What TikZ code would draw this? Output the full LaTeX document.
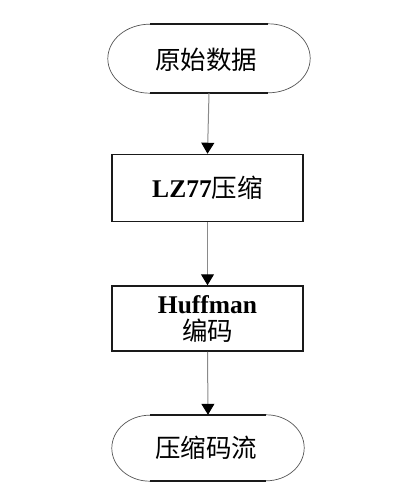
\documentclass[tikz,border=0pt]{standalone}
\usepackage{fontspec}
\setmainfont{Liberation Serif}
\newfontfamily\cjk{Noto Sans CJK SC}
\usetikzlibrary{arrows.meta}
\definecolor{edgedark}{HTML}{1A1A1A}
\definecolor{arcgray}{HTML}{555555}
\definecolor{linkgray}{HTML}{8A8A8A}
\tikzset{
  txt/.style={font=\fontsize{25.5pt}{27pt}\selectfont, text=black, inner sep=0pt, align=center},
  procbox/.style={draw=edgedark, line width=1.5pt, minimum width=191pt, minimum height=67pt, inner sep=0pt},
  termcore/.style={minimum height=69pt, inner sep=0pt},
  termedge/.style={draw=edgedark, line width=1.6pt},
  termarc/.style={draw=arcgray, line width=0.7pt},
  link/.style={draw=linkgray, line width=1pt, -{Triangle[width=13pt,length=11pt,color=black]}}
}
\begin{document}
\begin{tikzpicture}[x=1pt,y=-1pt]
\useasboundingbox (0,0) rectangle (411,492);
% top terminal
\node[termcore, minimum width=118pt] (t1) at (209,58.5) {};
\draw[termedge] (t1.north west) -- (t1.north east);
\draw[termedge] (t1.south west) -- (t1.south east);
\draw[termarc] (t1.north east) arc[start angle=90, end angle=-90, x radius=42pt, y radius=34.5pt];
\draw[termarc] (t1.south west) arc[start angle=270, end angle=90, x radius=42pt, y radius=34.5pt];
\node[txt] (t1txt) at (206,60) {\cjk 原始数据};
% LZ77 box
\node[procbox, txt] (p1) at (207.5,188) {\textbf{LZ77}{\cjk 压缩}};
% Huffman box
\node[procbox, minimum height=65pt] (p2) at (207.5,318.5) {};
\node[txt] (p2txt) at (207.5,318.5) {\textbf{Huffman}\\{\cjk 编码}};
% bottom terminal
\node[termcore, minimum width=116pt, minimum height=66pt] (t2) at (208,448) {};
\draw[termedge] (t2.north west) -- (t2.north east);
\draw[termedge] (t2.south west) -- (t2.south east);
\draw[termarc] (t2.north east) arc[start angle=90, end angle=-90, x radius=38pt, y radius=33pt];
\draw[termarc] (t2.south west) arc[start angle=270, end angle=90, x radius=38pt, y radius=33pt];
\node[txt] (t2txt) at (206,448) {\cjk 压缩码流};
% connectors
\draw[link] (t1.south) -- (p1.north);
\draw[link] (p1.south) -- (p2.north);
\draw[link] (p2.south) -- (t2.north);
\end{tikzpicture}
\end{document}
